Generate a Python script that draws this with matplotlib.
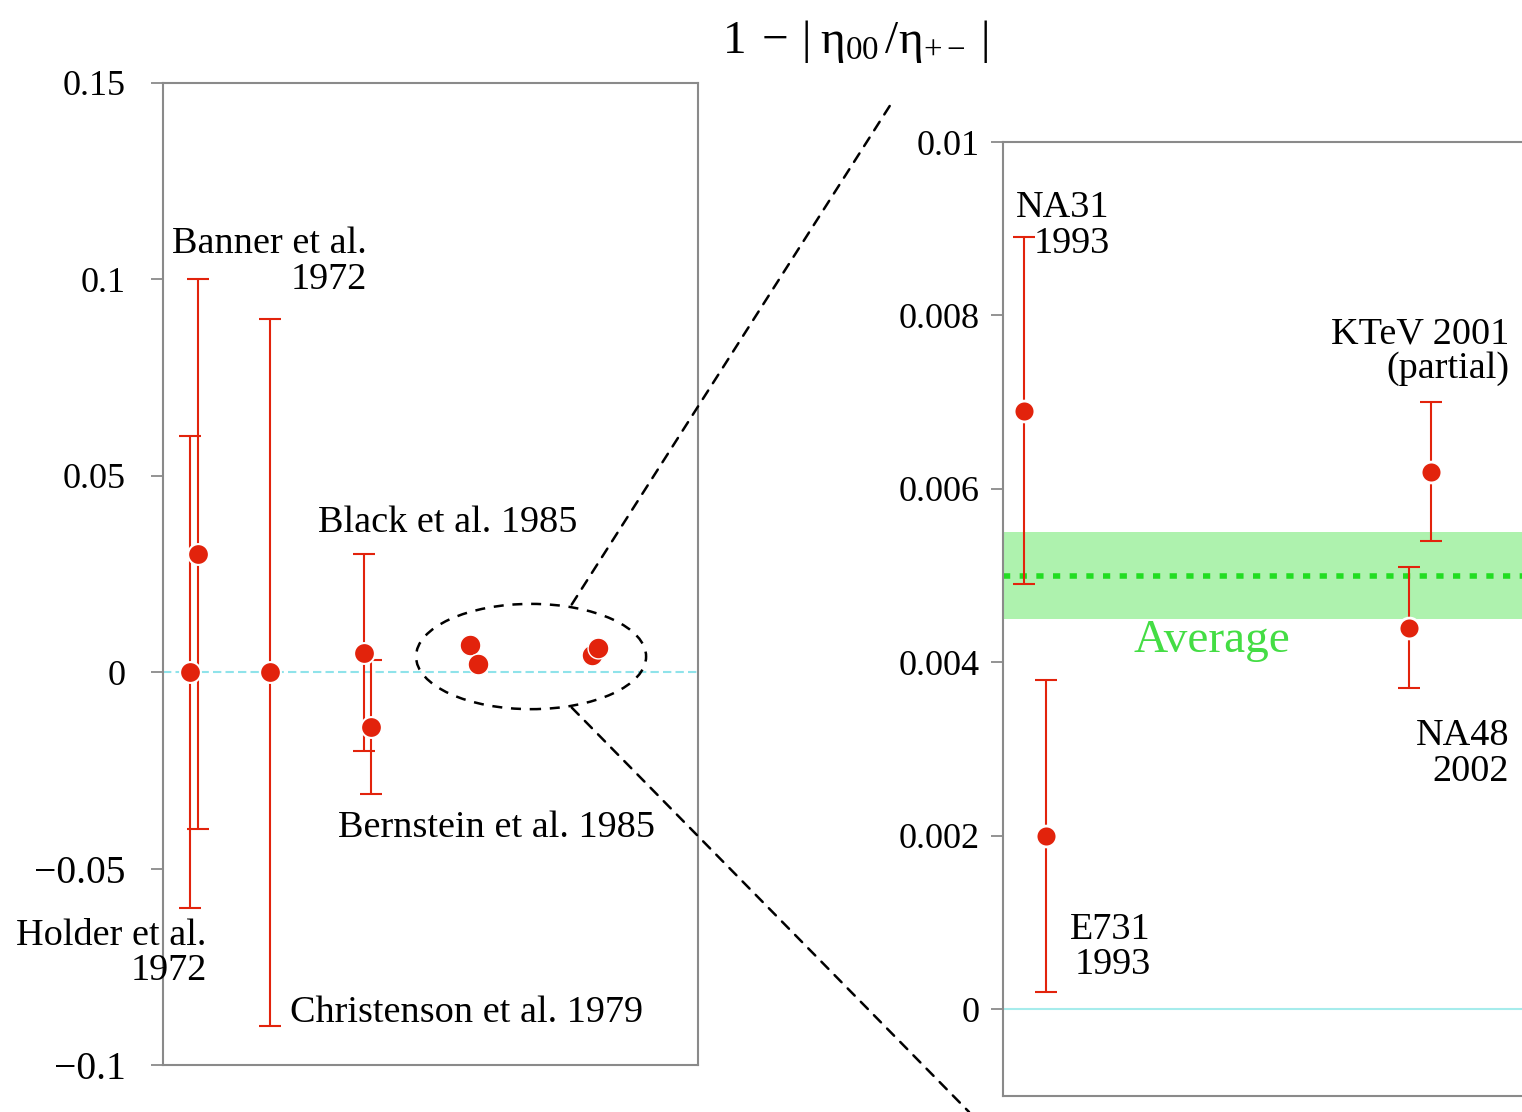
import matplotlib.pyplot as plt
from matplotlib.patches import Ellipse, ConnectionPatch

plt.rcParams['font.family'] = ['Liberation Serif', 'DejaVu Serif']
plt.rcParams['mathtext.fontset'] = 'custom'
plt.rcParams['mathtext.rm'] = 'Liberation Serif'
plt.rcParams['mathtext.it'] = 'Liberation Serif:italic'

# early measurements (left panel)
left_names = ["Holder 1972", "Banner 1972", "Christenson 1979", "Black 1985", "Bernstein 1985"]
left_x = [0.50, 0.65, 2.00, 3.76, 3.89]
left_val = [0.0, 0.030, 0.0, 0.005, -0.014]
left_err = [0.060, 0.070, 0.090, 0.025, 0.017]

# recent precision results (zoomed panel)
recent_names = ["NA31 1993", "E731 1993", "NA48 2002", "KTeV 2001"]
recent_val = [0.0069, 0.0020, 0.0044, 0.0062]
recent_err = [0.0020, 0.0018, 0.0007, 0.0008]
recent_x_left = [5.74, 5.89, 8.02, 8.13]
recent_x_right = [0.39, 0.79, 7.49, 7.90]

avg_val = 0.0050
avg_err = 0.0005

left_ticks = [0.15, 0.1, 0.05, 0, -0.05, -0.1]
left_ticklabels = ["0.15", "0.1", "0.05", "0", "\u22120.05", "\u22120.1"]
right_ticks = [0.01, 0.008, 0.006, 0.004, 0.002, 0]
right_ticklabels = ["0.01", "0.008", "0.006", "0.004", "0.002", "0"]

RED = '#e2230c'
FS = 27.5
TICK_FS = 26

fig = plt.figure(figsize=(15.22, 11.12), dpi=100)
ax1 = fig.add_axes([0.1071, 0.0423, 0.3515, 0.8831])
ax2 = fig.add_axes([0.6590, 0.0144, 0.3561, 0.8579])

for ax in (ax1, ax2):
    for s in ax.spines.values():
        s.set_color('#8a8a8a')
        s.set_linewidth(1.5)
    ax.set_xticks([])
    ax.tick_params(axis='y', direction='out', length=9, width=1.3,
                   color='#8a8a8a', labelsize=TICK_FS)

ax1.tick_params(axis='y', pad=18)
ax2.tick_params(axis='y', pad=8)

# ---- left panel ----
ax1.set_xlim(0, 10)
ax1.set_ylim(-0.1, 0.15)
ax1.set_yticks(left_ticks)
ax1.set_yticklabels(left_ticklabels)
for lab in ax1.get_yticklabels():
    if lab.get_text().startswith("\u2212"):
        lab.set_fontsize(28.5)
ax1.axhline(0, color='#8fe3ea', lw=1.5, ls=(0, (4, 2)), zorder=1)

ax1.errorbar(left_x, left_val, yerr=left_err, fmt='none', ecolor=RED,
             elinewidth=1.5, capsize=8, capthick=1.5, zorder=2)
ax1.plot(left_x, left_val, 'o', color=RED, ms=15, mec='white', mew=1.5, zorder=3)
ax1.plot(recent_x_left, recent_val, 'o', color=RED, ms=15, mec='white', mew=1.0, zorder=3)

ax1.text(3.81, 0.1045, "Banner et al.\n1972", ha='right', va='center',
         multialignment='right', fontsize=FS, linespacing=1.05)
ax1.text(2.90, 0.0381, "Black et al. 1985", ha='left', va='center', fontsize=FS)
ax1.text(3.27, -0.0396, "Bernstein et al. 1985", ha='left', va='center', fontsize=FS)
ax1.text(0.82, -0.0715, "Holder et al.\n1972", ha='right', va='center',
         multialignment='right', fontsize=FS, linespacing=1.0)
ax1.text(2.37, -0.0868, "Christenson et al. 1979", ha='left', va='center', fontsize=FS)

# dashed ellipse round the recent results
ell = Ellipse((6.88, 0.00398), 4.30, 0.0268, fill=False, ec='black',
              lw=1.8, ls=(0, (4, 3.5)), zorder=4)
ax1.add_patch(ell)

# ---- zoomed panel ----
ax2.set_xlim(0, 10)
ax2.set_ylim(-0.001, 0.01)
ax2.set_yticks(right_ticks)
ax2.set_yticklabels(right_ticklabels)
ax2.axhline(0, color='#a6ecec', lw=1.5, zorder=1)

ax2.axhspan(avg_val - avg_err, avg_val + avg_err, color='#aef2ae', lw=0, zorder=0)
ax2.axhline(avg_val, color='#22dd22', lw=4, ls=(0, (1.3, 1.7)), zorder=1)
ax2.text(3.86, 0.00425, "Average", color='#44dd44', fontsize=34,
         ha='center', va='center')

ax2.errorbar(recent_x_right, recent_val, yerr=recent_err, fmt='none', ecolor=RED,
             elinewidth=1.5, capsize=8, capthick=1.5, zorder=2)
ax2.plot(recent_x_right, recent_val, 'o', color=RED, ms=15, mec='white', mew=2, zorder=3)

ax2.text(1.97, 0.009036, "NA31\n1993", ha='right', va='center',
         multialignment='right', fontsize=FS, linespacing=1.03)
ax2.text(2.73, 0.000716, "E731\n1993", ha='right', va='center',
         multialignment='right', fontsize=FS, linespacing=1.05)
ax2.text(9.34, 0.002945, "NA48\n2002", ha='right', va='center',
         multialignment='right', fontsize=FS, linespacing=1.05)
ax2.text(9.34, 0.00758, "KTeV 2001\n(partial)", ha='right', va='center',
         multialignment='right', fontsize=FS, linespacing=1.0)

# zoom guide lines
for start, end in [((7.64, 0.01723), (0.5854, 0.9065)),
                   ((7.64, -0.00902), (0.6367, 0.0))]:
    con = ConnectionPatch(xyA=start, coordsA=ax1.transData,
                          xyB=end, coordsB=fig.transFigure,
                          color='black', lw=1.8, ls=(0, (4, 3.5)))
    fig.add_artist(con)

fig.text(0.5618, 0.963, r'$\mathrm{1\;-\,|\;\eta_{00}\,/\eta_{+-}\;|}$', fontsize=34,
         ha='center', va='center')

fig.savefig('out.png', dpi=100)
